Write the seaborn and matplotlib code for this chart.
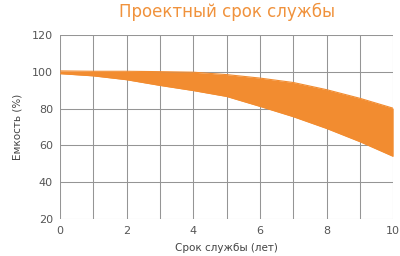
import matplotlib
matplotlib.use("Agg")
import matplotlib.pyplot as plt
import seaborn as sns
import pandas as pd

years = [0, 1, 2, 3, 4, 5, 6, 7, 8, 9, 10]
upper = [100.5, 100.3, 100.3, 100.1, 99.8, 98.5, 96.6, 94.2, 90.3, 85.6, 80.2]
lower = [99.0, 97.8, 95.7, 92.6, 89.8, 86.6, 81.2, 75.6, 69.2, 62.0, 54.0]
title = "Проектный срок службы"
xlabel = "Срок службы (лет)"
ylabel = "Емкость (%)"
xticks = [0, 2, 4, 6, 8, 10]
yticks = [20, 40, 60, 80, 100, 120]

sns.set_theme(style="white")
plt.rcParams['font.family'] = ['DejaVu Sans']

orange = "#F28C30"
df = pd.DataFrame({"year": years, "upper": upper, "lower": lower})

fig = plt.figure(figsize=(4.0, 2.56), dpi=100)
ax = fig.add_axes([0.15, 0.145, 0.833, 0.718])

for x in range(0, 11):
    ax.axvline(x, color="#959595", lw=0.75, zorder=0)
for y in range(20, 121, 20):
    ax.axhline(y, color="#959595", lw=0.75, zorder=0)

ax.fill_between(df["year"], df["lower"], df["upper"], color=orange, lw=0, zorder=2)
sns.lineplot(data=df, x="year", y="upper", ax=ax, color=orange, lw=0.8, zorder=3)
sns.lineplot(data=df, x="year", y="lower", ax=ax, color=orange, lw=0.8, zorder=3)

ax.set_xlim(0, 10)
ax.set_ylim(20, 120)
ax.set_xticks(xticks)
ax.set_yticks(yticks)
for s in ax.spines.values():
    s.set_visible(False)
ax.tick_params(axis="both", length=0, labelsize=8, labelcolor="#555555", pad=5)
ax.set_xlabel(xlabel, fontsize=7.5, color="#444444", labelpad=5)
ax.set_ylabel(ylabel, fontsize=7.5, color="#444444", labelpad=7)
fig.text(0.567, 0.952, title, ha="center", va="center", fontsize=12, color="#F0923C")

fig.savefig("out.png", dpi=100)
